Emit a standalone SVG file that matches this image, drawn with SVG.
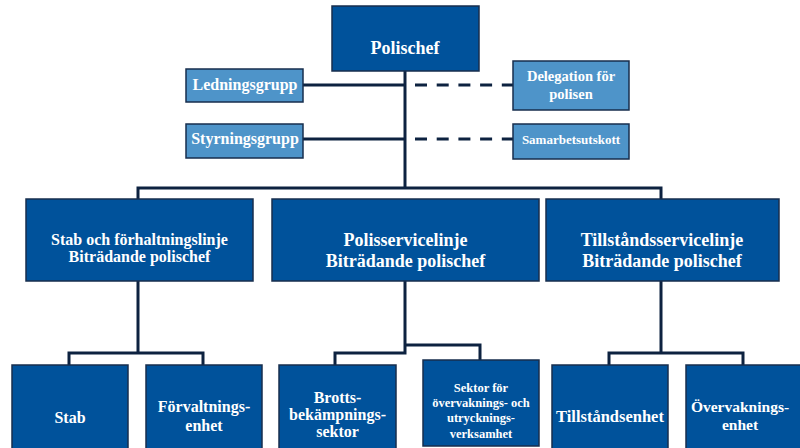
<svg xmlns="http://www.w3.org/2000/svg" width="800" height="448" viewBox="0 0 800 448">
<style>
.dk{fill:#00529b;stroke:#172e4d;stroke-width:1.5}
.lt{fill:#4e94c9;stroke:#172e4d;stroke-width:1.5}
text{font-family:"Liberation Serif","DejaVu Serif",serif;font-weight:bold;fill:#ffffff;text-anchor:middle}
.ln{fill:none;stroke:#0d2240;stroke-width:3}
.ds{fill:none;stroke:#0d2240;stroke-width:3;stroke-dasharray:12 9.7}
</style>
<rect width="800" height="448" fill="#ffffff"/>
<g id="connectors">
<path class="ln" d="M405 71 V188"/>
<path class="ln" d="M303 85 H405"/>
<path class="ln" d="M303 139 H405"/>
<path class="ds" d="M415 85 H513"/>
<path class="ds" d="M415 139 H513"/>
<path class="ln" d="M138 199 V188 H661 V199"/>
<path class="ln" d="M138 281 V353 M69 365 V353 H203 V365"/>
<path class="ln" d="M405 281 V353 H335 V365 M405 345 H480 V360"/>
<path class="ln" d="M661 281 V353 M609 365 V353 H743 V365"/>
</g>
<g id="polischef"><rect class="dk" x="332" y="6" width="147" height="65"/><text x="405" y="54" font-size="18">Polischef</text></g>
<g id="ledningsgrupp"><rect class="lt" x="186" y="69" width="117" height="33"/><text x="245" y="90" font-size="16">Ledningsgrupp</text></g>
<g id="styrningsgrupp"><rect class="lt" x="186" y="124" width="117" height="34"/><text x="245" y="144" font-size="16">Styrningsgrupp</text></g>
<g id="delegation"><rect class="lt" x="513" y="61" width="116" height="49"/><text x="571" y="81" font-size="14.5">Delegation för</text><text x="571" y="99" font-size="14.5">polisen</text></g>
<g id="samarbetsutskott"><rect class="lt" x="513" y="124" width="116" height="35"/><text x="571" y="144" font-size="13">Samarbetsutskott</text></g>
<g id="stab-linje"><rect class="dk" x="26" y="199" width="227" height="82"/><text x="139.5" y="245" font-size="16">Stab och förhaltningslinje</text><text x="139.5" y="262" font-size="16">Biträdande polischef</text></g>
<g id="polisservicelinje"><rect class="dk" x="272" y="199" width="267" height="82"/><text x="405.5" y="246" font-size="18">Polisservicelinje</text><text x="405.5" y="267" font-size="18">Biträdande polischef</text></g>
<g id="tillstandsservicelinje"><rect class="dk" x="546" y="199" width="233" height="82"/><text x="662" y="246" font-size="18">Tillståndsservicelinje</text><text x="662" y="267" font-size="18">Biträdande polischef</text></g>
<g id="stab"><rect class="dk" x="12" y="365" width="116" height="90"/><text x="70" y="423" font-size="16">Stab</text></g>
<g id="forvaltningsenhet"><rect class="dk" x="146" y="365" width="116" height="90"/><text x="204" y="412" font-size="16">Förvaltnings-</text><text x="204" y="431" font-size="16">enhet</text></g>
<g id="brottsbekampningssektor"><rect class="dk" x="279" y="365" width="117" height="90"/><text x="337.5" y="403" font-size="16">Brotts-</text><text x="337.5" y="420" font-size="16">bekämpnings-</text><text x="337.5" y="437" font-size="16">sektor</text></g>
<g id="sektor-overvakning"><rect class="dk" x="423" y="360" width="116" height="86"/><text x="481" y="392" font-size="12.5">Sektor för</text><text x="481" y="406.5" font-size="12.5">övervaknings- och</text><text x="481" y="422" font-size="12.5">utrycknings-</text><text x="481" y="437.5" font-size="12.5">verksamhet</text></g>
<g id="tillstandsenhet"><rect class="dk" x="552" y="365" width="116" height="90"/><text x="610" y="422" font-size="16.5">Tillståndsenhet</text></g>
<g id="overvakningsenhet"><rect class="dk" x="686" y="365" width="116" height="90"/><text x="740" y="412" font-size="15.5">Övervaknings-</text><text x="740" y="430" font-size="15.5">enhet</text></g>
</svg>
